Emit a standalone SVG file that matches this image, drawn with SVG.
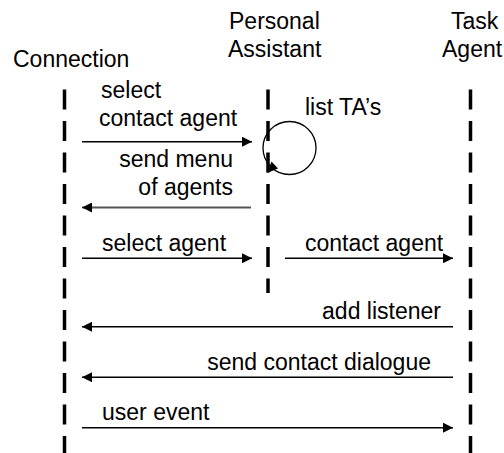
<svg xmlns="http://www.w3.org/2000/svg" width="504" height="453" viewBox="0 0 504 453">
<style>
text{font-family:"Liberation Sans",Arial,sans-serif;font-size:23px;fill:#000}
.life{stroke:#000;stroke-width:3.5;stroke-dasharray:20 11.5;fill:none}
.msg{stroke:#000;stroke-width:1.5;fill:none;marker-end:url(#ah)}
.gray{stroke:#555;stroke-width:2}
</style>
<defs>
<marker id="ah" viewBox="0 0 10 10" refX="10" refY="5" markerWidth="10" markerHeight="10" markerUnits="userSpaceOnUse" orient="auto"><path d="M0,0 L10,5 L0,10 z" fill="#000"/></marker>
</defs>
<rect width="504" height="453" fill="#fff"/>
<g id="connection">
<text x="13" y="67">Connection</text>
<line class="life" x1="64.5" y1="89.5" x2="64.5" y2="453"/>
</g>
<g id="personal-assistant">
<text x="229" y="29">Personal</text>
<text x="228" y="57">Assistant</text>
<line class="life" x1="268" y1="89.5" x2="268" y2="293"/>
</g>
<g id="task-agent">
<text x="451" y="29">Task</text>
<text x="442" y="57">Agent</text>
<line class="life" x1="470.5" y1="89.5" x2="470.5" y2="453"/>
</g>
<g id="connectors">
<line class="msg" x1="82" y1="141.7" x2="252" y2="141.7"/>
<text x="101" y="98">select</text>
<text x="99" y="126">contact agent</text>
<circle cx="289.5" cy="148" r="26.5" fill="none" stroke="#000" stroke-width="1.3"/>
<line x1="276" y1="168" x2="270" y2="171" stroke="#000" stroke-width="1.2"/>
<path d="M267,173 L271.5,161.5 L278,168.5 z" fill="#000"/>
<text x="305" y="115">list TA’s</text>
<line class="msg gray" x1="251" y1="207.5" x2="82" y2="207.5"/>
<text x="233" y="166.5" text-anchor="end">send menu</text>
<text x="233" y="195" text-anchor="end">of agents</text>
<line class="msg" x1="82" y1="258.3" x2="252" y2="258.3"/>
<text x="102" y="250.5">select agent</text>
<line class="msg" x1="285" y1="258.3" x2="453" y2="258.3"/>
<text x="305" y="250.5">contact agent</text>
<line class="msg" x1="453" y1="326.7" x2="82" y2="326.7"/>
<text x="441" y="318.5" text-anchor="end">add listener</text>
<line class="msg" x1="453" y1="377.3" x2="82" y2="377.3"/>
<text x="431" y="370" text-anchor="end">send contact dialogue</text>
<line class="msg" x1="82" y1="427.7" x2="453" y2="427.7"/>
<text x="102" y="419.5">user event</text>
</g>
</svg>
